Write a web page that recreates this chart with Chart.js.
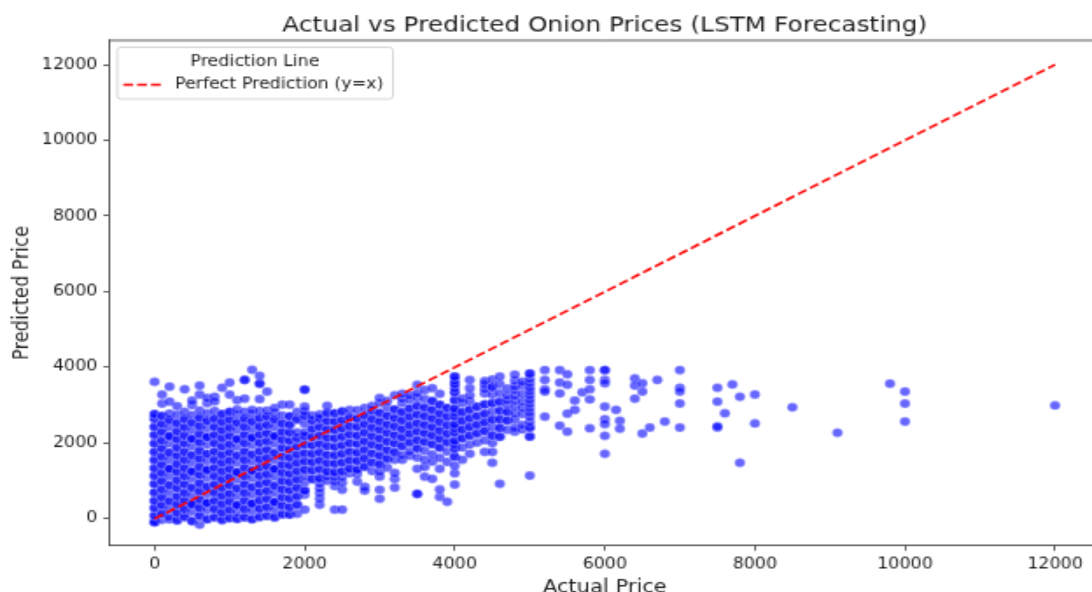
<!DOCTYPE html>
<html>
<head>
<meta charset="utf-8">
<script src="https://cdn.jsdelivr.net/npm/chart.js@4"></script>
<style>
  html, body { margin: 0; padding: 0; background: #fff; overflow: hidden; width: 1092px; height: 592px; }
  /* the reference is a small figure stretched up, so the canvas is scaled the same way */
  #wrap { width: 640px; height: 400px; transform: scale(1.75, 1.5); transform-origin: 0 0; filter: blur(0.25px); }
</style>
</head>
<body>
<div id="wrap"><canvas id="myChart" width="640" height="400"></canvas></div>
<script>
const chartTitle = "Actual vs Predicted Onion Prices (LSTM Forecasting)";
const legendTitle = "Prediction Line";
const lineLabel = "Perfect Prediction (y=x)";
const lineEnds = [0, 12000];
const xTickValues = [0, 2000, 4000, 6000, 8000, 10000, 12000];
const yTickValues = [0, 2000, 4000, 6000, 8000, 10000, 12000];

// actual prices fall on round hundreds, so the dense part is read column by column
// repeated values are spots where several points sit on top of each other
const actualColumns = [0,100,200,300,400,500,600,700,800,900,1000,1100,1200,1300,1400,1500,1600,1700,1800,1900,
  2000,2100,2200,2300,2400,2500,2600,2700,2800,2900,3000,3100,3200,3300,3400,3500,3600,3700,3800,3900,
  4000,4100,4200,4300,4400,4500,4600,4700,4800,4900,5000];
const predictedColumns = [
  [-100,-95,-80,70,90,280,290,470,480,690,700,910,920,1120,1140,1330,1340,1540,1560,1760,1770,1980,1990,2200,2220,2420,2430,2640,2650,2760,2770,3620],
  [-30,130,140,350,360,560,570,770,780,990,1000,1210,1220,1420,1430,1640,1650,1850,1860,2060,2070,2290,2300,2500,2510,2710,2720,3040,3280],
  [-20,40,260,450,470,700,880,890,1130,1310,1320,1320,1560,1740,1750,1990,2170,2180,2180,2420,2600,2610,2780,3090,3490],
  [-50,-40,150,160,370,380,580,590,800,810,1010,1020,1230,1240,1440,1450,1660,1670,1870,1880,2090,2100,2300,2310,2520,2530,2750,2970],
  [40,50,250,260,470,480,680,690,900,910,1120,1130,1330,1340,1550,1560,1760,1770,1980,1990,2190,2200,2410,2420,2630,2640,2830,3420],
  [-70,-60,190,370,380,380,620,810,820,1060,1240,1250,1250,1490,1670,1680,1910,2100,2110,2110,2340,2530,2540,2740,3000,3120],
  [-160,70,80,280,290,500,510,720,730,930,940,1150,1160,1360,1370,1580,1590,1790,1800,2010,2020,2230,2240,2440,2450,2660,2670,2860,3280,3515],
  [-20,-10,230,410,420,420,660,840,850,1090,1280,1290,1290,1530,1710,1720,1960,2150,2160,2160,2400,2580,2590,2790,3050,3190],
  [30,40,250,260,470,480,690,700,900,910,1120,1130,1340,1350,1550,1560,1770,1780,1990,2000,2210,2220,2420,2430,2640,2650,2850,3225,3100],
  [-40,-30,160,170,380,390,600,610,810,820,1030,1040,1250,1260,1470,1480,1680,1690,1900,1910,2120,2130,2330,2340,2550,2560,2760,2770,3463],
  [10,20,230,240,450,460,660,670,880,890,1100,1110,1310,1320,1530,1540,1750,1760,1960,1970,2180,2190,2400,2410,2610,2620,2820,2830,3278,3595],
  [-10,0,170,350,360,360,600,790,800,1040,1220,1230,1230,1480,1660,1670,1900,2090,2100,2100,2340,2530,2540,2750,2890,3130],
  [30,40,250,260,470,480,680,690,900,910,1120,1130,1340,1350,1550,1560,1770,1780,1990,2000,2210,2220,2420,2430,2640,2650,2830,3172,3670,3670],
  [-20,-10,210,390,400,400,640,820,830,1070,1260,1270,1270,1510,1690,1700,1940,2130,2140,2140,2370,2560,2570,2770,2880,3935],
  [40,50,260,270,480,490,700,710,910,920,1130,1140,1350,1360,1570,1580,1780,1790,2000,2010,2220,2230,2430,2440,2650,2660,2850,3160,3570,3570,3780],
  [70,80,300,310,520,530,730,740,950,960,1170,1180,1380,1390,1600,1610,1820,1830,2040,2050,2250,2260,2470,2480,2690,2700,2860,3357],
  [30,40,250,430,440,440,680,860,870,1110,1300,1310,1310,1550,1730,1740,1980,2170,2180,2180,2420,2610,2620,2800,2930],
  [110,120,340,350,560,570,770,780,990,1000,1210,1220,1420,1430,1640,1650,1860,1870,2080,2090,2290,2300,2510,2520,2730,3013],
  [106,110,300,310,530,540,740,750,960,970,1180,1190,1400,1410,1610,1620,1830,1840,2050,2060,2270,2280,2480,2490,2700,2710,3013],
  [130,360,370,590,600,810,820,1030,1040,1250,1260,1470,1480,1690,1700,1900,1910,2120,2130,2280,2620,2630,2830],
  [238,640,740,740,960,1130,1290,1300,1510,1520,1730,1740,1950,1960,2170,2180,2280,2510,2710,2720,2840,2960,3410,3410],
  [1040,1050,1270,1280,1490,1500,1710,1720,1930,1940,2150,2160,2370,2380,2590,2600,2730],
  [370,529,680,800,930,1060,1070,1300,1310,1530,1540,1750,1760,1970,1980,2190,2200,2420,2430,2640,2650,2760],
  [1000,1110,1240,1250,1460,1470,1680,1690,1910,1920,2130,2140,2350,2360,2570,2580,2790,2800,2987],
  [238,860,980,1100,1220,1230,1450,1460,1670,1680,1890,1900,2120,2130,2340,2350,2560,2570,2780,2790],
  [238,766,950,1100,1250,1260,1480,1490,1710,1720,1930,1940,2160,2170,2380,2390,2600,2610,2830,2840],
  [1200,1320,1330,1540,1550,1770,1780,1990,2000,2220,2230,2440,2450,2670,2680,2880],
  [978,1180,1290,1300,1520,1530,1740,1750,1970,1980,2190,2200,2420,2430,2640,2650,2870],
  [846,740,1370,1380,1590,1600,1820,1830,2040,2050,2270,2280,2490,2500,2720,2730,2930],
  [1260,1480,1490,1720,1730,1950,1960,2170,2180,2400,2410,2620,2630,2850,2860,2980],
  [529,766,1110,1240,1430,1440,1660,1670,1890,1900,2110,2120,2340,2350,2560,2570,2790,2800,3050,3190],
  [1350,1580,1590,1810,1820,2030,2040,2260,2270,2480,2490,2710,2720,2940,3110],
  [820,1057,1210,1560,1750,1760,1980,1990,2200,2210,2430,2440,2650,2660,2880,2890,3260],
  [1560,1680,1910,1920,2140,2150,2360,2370,2590,2600,2810,2820,3050,3170,3300],
  [1670,1780,2010,2020,2240,2250,2460,2470,2690,2700,2910,2920,3150,3260],
  [660,660,1320,1620,1850,1860,2070,2080,2300,2310,2520,2530,2750,2760,2970,2980,3200,3320,3540],
  [1110,1374,1560,1800,2020,2030,2250,2260,2470,2480,2700,2710,2930,2940,3160,3400],
  [1057,1506,1700,1960,1970,2190,2200,2410,2420,2640,2650,2870,2880,3100,3110,3450],
  [580,770,1320,1610,1870,1880,2100,2110,2320,2330,2550,2560,2770,2780,3000,3010,3300],
  [450,1500,1780,2010,2020,2240,2250,2460,2470,2690,2700,2920,2930],
  [900,1200,1400,1640,1640,1850,1850,1960,2060,2060,2280,2280,2390,2490,2490,2700,2700,2810,2910,2910,3130,3130,3340,3340,3450,3560,3560,3650,3754,3754],
  [1560,1880,2120,2130,2350,2360,2580,2590,2810,2820,3050,3170],
  [1720,1960,2190,2200,2420,2430,2650,2660,2880,2890,3100,3260,3450,3670],
  [2010,2250,2260,2480,2490,2710,2720,2950,2960],
  [1770,2070,2310,2320,2540,2550,2770,2780,3010,3020,3310,3430,3550,3640],
  [1480,1770,2000,2200,2200,2420,2620,2620,2840,3050,3050,3280,3480,3480,3680],
  [925,2160,2170,2390,2400,2620,2630,2850,2860,3080,3090,3320,3560,3754],
  [2350,2590,2600,2820,2830,3010,3130,3250,3440],
  [2300,2400,2620,2780,2960,3120,3250,3400,3500,3650,3806],
  [2360,2480,2770,2930,3090,3290,3520,3620],
  [1137,2170,2170,2405,2405,2560,2700,2810,2930,3040,3150,3260,3370,3470,3590,3700,3833,3833]
];

// everything right of 5000 is sparse enough to read one point at a time
const sparseActual = [5200,5200,5200,5200,5200,5400,5500,5400,5500,5400,5400,5500,5500,5600,5600,5700,5800,5800,5800,5800,5800,
  6000,6000,6000,6000,6000,6000,6000,6000,6000,6150,6200,6200,6400,6400,6400,6500,6500,6500,6600,6700,6800,
  7000,7000,7000,7000,7000,7500,7500,7500,7500,7600,7700,7800,7800,8000,8000,8500,9100,9800,10000,10000,10000,12000];
const sparsePredicted = [3930,3670,3420,3357,2696,3930,3815,3595,3540,3313,2458,2775,2300,3120,2880,3340,3930,3670,3420,3155,2387,
  3930,3930,3670,3577,2960,2625,2500,2190,1718,2880,2590,2380,3710,3515,3172,3577,3357,2255,2405,3670,2564,
  3930,3463,3357,3048,2405,3463,3093,2405,2440,2784,3550,3225,1480,3286,2520,2942,2273,3568,3357,3040,2564,2990];

const points = [];
actualColumns.forEach((x, i) => predictedColumns[i].forEach(y => points.push({ x: x, y: y })));
sparseActual.forEach((x, i) => points.push({ x: x, y: sparsePredicted[i] }));

const textColor = "#1a1a1a";
const font = "DejaVu Sans";

// top and right spines, and the legend box that sits inside the axes
const frameAndLegend = {
  id: "frameAndLegend",
  afterDraw(chart) {
    const c = chart.ctx, a = chart.chartArea;
    c.save();
    c.strokeStyle = "#333";
    c.lineWidth = 0.8;
    c.beginPath();
    c.moveTo(a.left, a.top); c.lineTo(a.right, a.top); c.lineTo(a.right, a.bottom);
    c.stroke();

    c.strokeStyle = "#ccc";
    c.fillStyle = "rgba(255,255,255,0.8)";
    c.beginPath();
    c.roundRect(67, 31.5, 157.5, 34.5, 2);
    c.fill(); c.stroke();

    c.fillStyle = textColor;
    c.font = "10px '" + font + "'";
    c.textBaseline = "middle";
    c.textAlign = "center";
    c.fillText(legendTitle, 145.7, 41.3);
    c.textAlign = "left";
    c.fillText(lineLabel, 100, 56.5);

    c.strokeStyle = "red";
    c.lineWidth = 1.5;
    c.setLineDash([5.5, 2.4]);
    c.beginPath();
    c.moveTo(70.5, 56.5); c.lineTo(92, 56.5);
    c.stroke();
    c.restore();
  }
};

const plainTick = v => String(v);

const onionChart = new Chart(document.getElementById("myChart").getContext("2d"), {
  type: "scatter",
  data: {
    datasets: [
      {
        type: "line",
        label: lineLabel,
        data: lineEnds.map(v => ({ x: v, y: v })),
        borderColor: "red",
        borderWidth: 1.5,
        borderDash: [5.5, 2.4],
        pointRadius: 0,
        fill: false,
      },
      {
        label: "Actual vs Predicted",
        data: points,
        backgroundColor: "rgba(0,0,255,0.6)",
        borderColor: "rgba(255,255,255,0.6)",
        borderWidth: 0.4,
        pointRadius: 3,
      },
    ],
  },
  options: {
    responsive: false,
    animation: false,
    devicePixelRatio: 1,
    layout: { padding: { left: 0, right: 11.4, top: 0, bottom: 0 }, autoPadding: false },
    plugins: {
      legend: { display: false },
      tooltip: { enabled: false },
      title: {
        display: true,
        text: chartTitle,
        fullSize: false,
        color: textColor,
        font: { family: font, size: 14.2, weight: "normal", lineHeight: 1.2 },
        padding: { top: 9.2, bottom: 0.7 },
      },
    },
    scales: {
      x: {
        min: -600,
        max: 12600,
        afterFit: s => { s.height = 36.3; },
        afterBuildTicks: s => { s.ticks = xTickValues.map(v => ({ value: v })); },
        grid: { drawOnChartArea: false, tickLength: 3.5, tickColor: "#333", tickWidth: 0.8 },
        border: { color: "#333", width: 0.8 },
        ticks: { autoSkip: false, maxRotation: 0, color: textColor, padding: 3.5, callback: plainTick, font: { family: font, size: 10 } },
        title: { display: true, text: "Actual Price", color: textColor, padding: { top: 2, bottom: 0.8 }, font: { family: font, size: 12 } },
      },
      y: {
        min: -710,
        max: 12640,
        afterFit: s => { s.width = 62.6; },
        afterBuildTicks: s => { s.ticks = yTickValues.map(v => ({ value: v })); },
        grid: { drawOnChartArea: false, tickLength: 3.5, tickColor: "#333", tickWidth: 0.8 },
        border: { color: "#333", width: 0.8 },
        ticks: { autoSkip: false, color: textColor, padding: 3.5, callback: plainTick, font: { family: font, size: 10 } },
        title: { display: true, text: "Predicted Price", color: textColor, padding: { top: 5.4, bottom: 2 }, font: { family: font, size: 12 } },
      },
    },
  },
  plugins: [frameAndLegend],
});
</script>
</body>
</html>
